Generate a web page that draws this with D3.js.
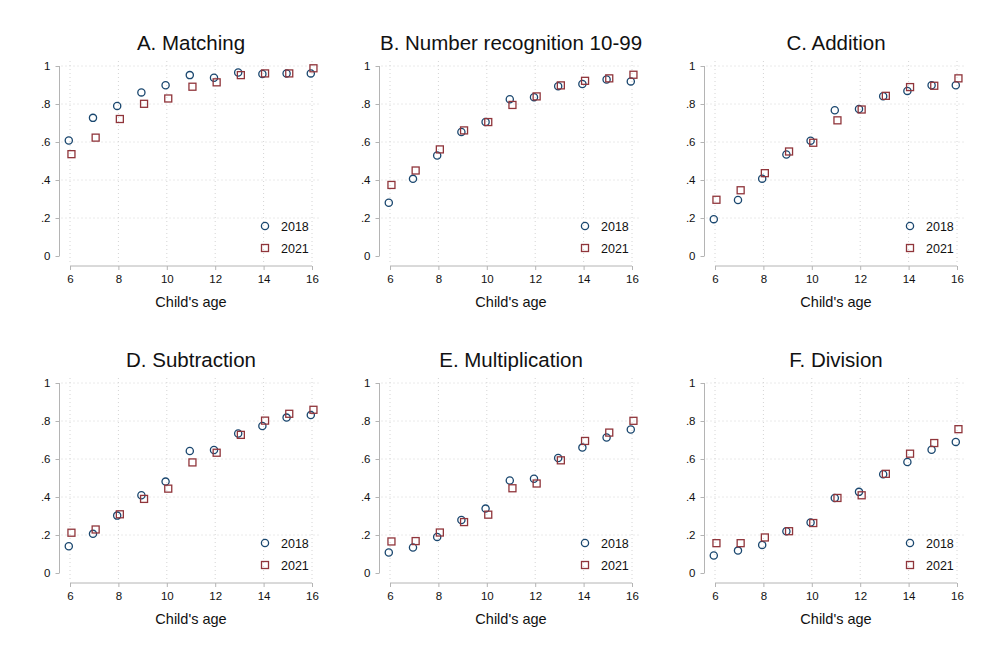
<!DOCTYPE html>
<meta charset="utf-8">
<html>
<head>
<script src="https://cdnjs.cloudflare.com/ajax/libs/d3/7.8.5/d3.min.js"></script>
<style>
  body { margin: 0; background: #fff; }
  text { font-family: "Liberation Sans", Arial, sans-serif; fill: #111; }
  .grid line { stroke: #d4d4d4; stroke-dasharray: 1,3; }
  .ax path, .ax line { stroke: #b4b4b4; }
</style>
</head>
<body>
<script>
// ages and panel titles
var ages = [6, 7, 8, 9, 10, 11, 12, 13, 14, 15, 16];
var titles = ["A. Matching", "B. Number recognition 10-99", "C. Addition",
              "D. Subtraction", "E. Multiplication", "F. Division"];
var yTicks = [0, 0.2, 0.4, 0.6, 0.8, 1];
var yTickLabels = ["0", ".2", ".4", ".6", ".8", "1"];
var xTicks = [6, 8, 10, 12, 14, 16];
var years = ["2018", "2021"];

// share of children passing each task, by age
var matching2018 = [0.608, 0.727, 0.790, 0.861, 0.899, 0.952, 0.938, 0.966, 0.958, 0.961, 0.961];
var matching2021 = [0.536, 0.623, 0.721, 0.801, 0.829, 0.891, 0.914, 0.952, 0.961, 0.961, 0.988];
var numrec2018   = [0.280, 0.406, 0.529, 0.653, 0.705, 0.825, 0.836, 0.894, 0.905, 0.929, 0.919];
var numrec2021   = [0.374, 0.450, 0.561, 0.661, 0.705, 0.795, 0.840, 0.898, 0.922, 0.935, 0.954];
var addition2018 = [0.194, 0.295, 0.407, 0.534, 0.607, 0.767, 0.774, 0.841, 0.869, 0.899, 0.899];
var addition2021 = [0.296, 0.346, 0.436, 0.550, 0.596, 0.714, 0.771, 0.843, 0.889, 0.896, 0.935];
var subtract2018 = [0.141, 0.206, 0.302, 0.409, 0.481, 0.642, 0.647, 0.734, 0.774, 0.818, 0.831];
var subtract2021 = [0.212, 0.229, 0.309, 0.390, 0.444, 0.582, 0.633, 0.727, 0.802, 0.838, 0.859];
var multiply2018 = [0.108, 0.134, 0.190, 0.279, 0.339, 0.487, 0.496, 0.605, 0.660, 0.713, 0.755];
var multiply2021 = [0.166, 0.168, 0.213, 0.268, 0.307, 0.446, 0.471, 0.593, 0.695, 0.739, 0.801];
var division2018 = [0.092, 0.118, 0.148, 0.220, 0.266, 0.395, 0.427, 0.520, 0.584, 0.649, 0.690];
var division2021 = [0.157, 0.157, 0.187, 0.220, 0.263, 0.395, 0.409, 0.522, 0.628, 0.684, 0.757];

var series = [
  [matching2018, matching2021],
  [numrec2018, numrec2021],
  [addition2018, addition2021],
  [subtract2018, subtract2021],
  [multiply2018, multiply2021],
  [division2018, division2021]
];

var navy = "#1a476f", maroon = "#90353b";

var svg = d3.select("body").append("svg")
    .attr("width", 1000).attr("height", 666);

// panel geometry (y axis position per column, y=0 position per row)
var axisX = [59.5, 379.5, 704.5];
var zeroY = [256, 573];
var plotH = 190;

function drawPanel(i) {
    var col = i % 3, row = Math.floor(i / 3);
    var ax = axisX[col];
    var x = d3.scaleLinear().domain([6, 16]).range([ax + 10.5, ax + 252.5]);
    var y = d3.scaleLinear().domain([0, 1]).range([zeroY[row], zeroY[row] - plotH]);
    var xAxisY = zeroY[row] + 10;

    var g = svg.append("g");

    // dotted grid
    var grid = g.append("g").attr("class", "grid");
    grid.selectAll(".h").data(yTicks.slice(1)).enter().append("line")
        .attr("x1", ax + 2).attr("x2", x(16) + 9)
        .attr("y1", function(d) { return y(d); })
        .attr("y2", function(d) { return y(d); });
    grid.selectAll(".v").data(xTicks).enter().append("line")
        .attr("x1", function(d) { return x(d); })
        .attr("x2", function(d) { return x(d); })
        .attr("y1", y(1) - 5).attr("y2", xAxisY - 3);

    // axes
    var yAx = g.append("g").attr("class", "ax")
        .attr("transform", "translate(" + ax + ",0)")
        .call(d3.axisLeft(y).tickValues(yTicks).tickSize(4).tickPadding(5)
              .tickFormat(function(d, k) { return yTickLabels[k]; }));
    yAx.select(".domain").attr("d", "M0," + y(1) + "V" + y(0));
    yAx.selectAll("text").style("font-size", "11.5px").style("font-family", "Liberation Sans, Arial, sans-serif");

    var xAx = g.append("g").attr("class", "ax")
        .attr("transform", "translate(0," + xAxisY + ")")
        .call(d3.axisBottom(x).tickValues(xTicks).tickSize(4).tickPadding(5));
    xAx.select(".domain").attr("d", "M" + x(6) + ",0H" + x(16));
    xAx.selectAll("text").style("font-size", "11.5px").style("font-family", "Liberation Sans, Arial, sans-serif");

    // titles
    g.append("text")
        .attr("x", (x(6) + x(16)) / 2).attr("y", y(1) - 16)
        .attr("text-anchor", "middle").style("font-size", "20.5px")
        .text(titles[i]);
    g.append("text")
        .attr("x", (x(6) + x(16)) / 2).attr("y", xAxisY + 41)
        .attr("text-anchor", "middle").style("font-size", "14.5px")
        .text("Child's age");

    // 2018 circles (shifted a bit left), 2021 squares (shifted right)
    var s = series[i];
    g.selectAll(".c").data(ages).enter().append("circle")
        .attr("cx", function(d) { return x(d - 0.05); })
        .attr("cy", function(d, k) { return y(s[0][k]); })
        .attr("r", 3.6)
        .attr("fill", "none").attr("stroke", navy).attr("stroke-width", 1.3);
    g.selectAll(".sq").data(ages).enter().append("rect")
        .attr("x", function(d) { return x(d + 0.06) - 3.5; })
        .attr("y", function(d, k) { return y(s[1][k]) - 3.5; })
        .attr("width", 7).attr("height", 7)
        .attr("fill", "none").attr("stroke", maroon).attr("stroke-width", 1.3);

    // legend
    var lx = x(16) - 47, ly = zeroY[row] - 30;
    g.append("circle").attr("cx", lx).attr("cy", ly).attr("r", 3.6)
        .attr("fill", "none").attr("stroke", navy).attr("stroke-width", 1.3);
    g.append("rect").attr("x", lx - 3.5).attr("y", ly + 22 - 3.5).attr("width", 7).attr("height", 7)
        .attr("fill", "none").attr("stroke", maroon).attr("stroke-width", 1.3);
    g.append("text").attr("x", lx + 16).attr("y", ly + 4.5).style("font-size", "12.5px").text(years[0]);
    g.append("text").attr("x", lx + 16).attr("y", ly + 26.5).style("font-size", "12.5px").text(years[1]);
}

for (var i = 0; i < 6; i++) drawPanel(i);
</script>
</body>
</html>
